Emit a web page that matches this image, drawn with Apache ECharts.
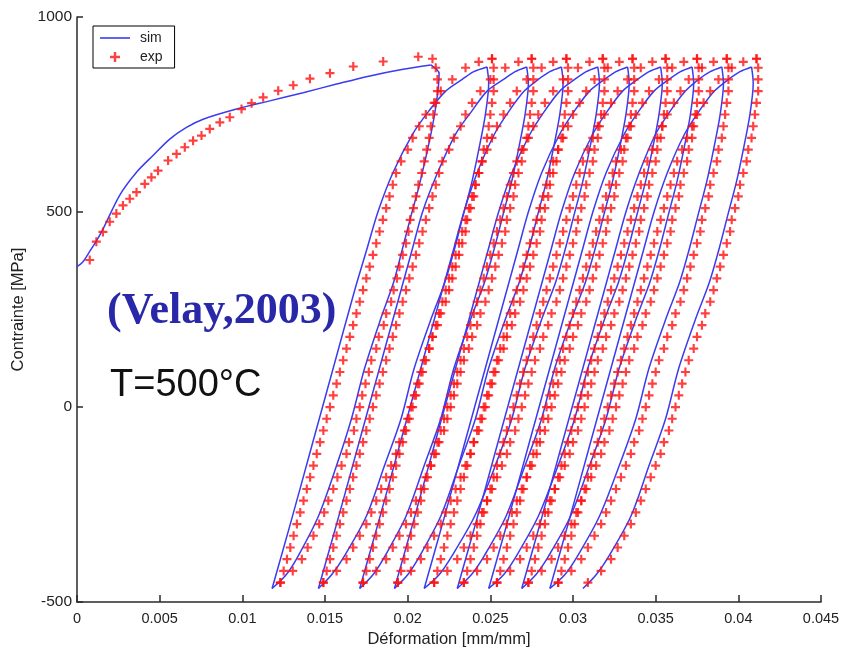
<!DOCTYPE html>
<html><head><meta charset="utf-8">
<script src="https://cdn.jsdelivr.net/npm/echarts@6/dist/echarts.min.js"></script>
<style>html,body{margin:0;padding:0;background:#fff}#c{width:846px;height:653px}</style>
</head><body><div id="c"></div>
<script>
// ---------- DATA (strain in mm/mm, stress in MPa) ----------
const xTicks = [0, 0.005, 0.01, 0.015, 0.02, 0.025, 0.03, 0.035, 0.04, 0.045];
const yTicks = [-500, 0, 500, 1000];

// simulation: monotonic loading
const simMono = [[0,360],[0.00035,372],[0.00077,399],[0.0012,428],[0.00158,457],[0.00258,543],[0.0036,602],[0.0046,645],[0.00561,687],[0.00662,717],[0.00763,738],[0.00965,764],[0.01166,785],[0.01368,806],[0.0157,828],[0.01772,849],[0.01973,866],[0.0214,877]];
// simulation: first unloading
const simDown0Stress = [877,855,800,720,640,560,490,400,320,230,100,-30,-150,-280,-380,-430,-465];
const simDown0 = [0.0214,0.0219,0.0218,0.0215,0.0211,0.02065,0.0202,0.01965,0.01915,0.0184,0.0174,0.0166,0.0157,0.0146,0.0134,0.01265,0.0118];
// simulation: reloading branches
const simUpStress = [-465,-300,-100,100,300,400,500,600,700,760,810,840,860,872];
const simUp = [
 [0.0118,0.0129,0.0142,0.0155,0.0168,0.0175,0.0182,0.0191,0.0203,0.0213,0.0223,0.0233,0.0240,0.0248],
 [0.0146,0.0157,0.0170,0.0183,0.0196,0.02025,0.0209,0.0218,0.0229,0.0239,0.0248,0.0258,0.0265,0.0272],
 [0.0171,0.0182,0.0195,0.0208,0.0221,0.02275,0.0234,0.0242,0.02525,0.02615,0.02705,0.0279,0.0286,0.0293],
 [0.0192,0.0203,0.0216,0.0229,0.0242,0.02485,0.0255,0.0263,0.0274,0.0283,0.0292,0.0301,0.0308,0.0315],
 [0.0210,0.0221,0.0234,0.0247,0.0260,0.02665,0.0273,0.0281,0.0292,0.0301,0.0310,0.0319,0.0326,0.0333],
 [0.0230,0.0241,0.0254,0.0267,0.0280,0.02865,0.0293,0.0301,0.0312,0.0321,0.0330,0.0339,0.0346,0.0353],
 [0.0249,0.0260,0.0273,0.0286,0.0299,0.03055,0.0312,0.0320,0.0331,0.0340,0.0349,0.0358,0.0365,0.0372],
 [0.0269,0.0280,0.0293,0.0306,0.0319,0.03255,0.0332,0.0340,0.0350,0.0359,0.0368,0.0376,0.0383,0.0390],
 [0.0286,0.0297,0.0310,0.0323,0.0336,0.03425,0.0349,0.0357,0.03675,0.03765,0.03855,0.0394,0.0401,0.0408]
];
// simulation: unloading branches 2..10
const simDownStress = [872,830,750,660,580,490,400,320,230,100,-30,-150,-280,-380,-430,-465];
const simDown = [
 [0.0248,0.0249,0.0247,0.0243,0.0239,0.02335,0.0228,0.02225,0.02145,0.0204,0.0196,0.0186,0.0175,0.0162,0.0154,0.0146],
 [0.0272,0.0273,0.0271,0.0267,0.0263,0.02575,0.0252,0.02465,0.02385,0.0228,0.0220,0.0210,0.0199,0.01865,0.0179,0.0171],
 [0.0293,0.0294,0.0292,0.0288,0.0284,0.02785,0.0273,0.02675,0.02595,0.0249,0.0241,0.0231,0.0220,0.02075,0.0200,0.0192],
 [0.0315,0.0316,0.0314,0.0310,0.0306,0.03005,0.0295,0.02895,0.02815,0.0271,0.0263,0.0253,0.02405,0.0227,0.0219,0.0210],
 [0.0333,0.0334,0.0332,0.0328,0.0324,0.03185,0.0313,0.03075,0.02995,0.0289,0.0281,0.0271,0.02595,0.02465,0.02385,0.0230],
 [0.0353,0.0354,0.0352,0.0348,0.0344,0.03385,0.0333,0.03275,0.03195,0.0309,0.0301,0.0291,0.0279,0.0266,0.0258,0.0249],
 [0.0372,0.0373,0.0371,0.0367,0.0363,0.03575,0.0352,0.03465,0.03385,0.0328,0.0320,0.0310,0.02985,0.02855,0.02775,0.0269],
 [0.0390,0.0391,0.0389,0.0385,0.0381,0.03755,0.0370,0.03645,0.03565,0.0346,0.0338,0.0328,0.0316,0.0303,0.0295,0.0286],
 [0.0408,0.0409,0.0407,0.0403,0.0399,0.03935,0.0388,0.03825,0.03745,0.0364,0.0356,0.0346,0.0335,0.0322,0.0314,0.0306]
];

// experiment: monotonic loading
const expMono = [[0.00077,377],[0.00117,424],[0.00157,449],[0.00198,475],[0.00238,496],[0.00278,517],[0.00319,534],[0.0036,551],[0.0041,572],[0.0045,589],[0.0049,606],[0.00551,632],[0.00602,649],[0.00652,666],[0.00702,683],[0.00753,696],[0.00803,713],[0.00864,730],[0.00924,743],[0.00995,764],[0.01056,779],[0.01126,794],[0.01217,811],[0.01308,825],[0.01409,842],[0.0153,856],[0.01671,873],[0.01852,886],[0.02064,898]];
// experiment: unloading branches (stress levels shared)
const expDownStress = [893,870,840,810,780,750,720,690,660,630,600,570,540,510,480,450,420,390,360,330,300,270,240,210,180,150,120,90,60,30,0,-30,-60,-90,-120,-150,-180,-210,-240,-270,-300,-330,-360,-390,-420,-450];
const expDown0 = [0.0215,0.0217,0.0218,0.0218,0.0217,0.02155,0.0214,0.0213,0.02115,0.0210,0.02085,0.02065,0.0205,0.02035,0.02015,0.02005,0.0199,0.0197,0.0195,0.01935,0.01915,0.0190,0.0187,0.01855,0.01825,0.0181,0.0178,0.01765,0.01745,0.01725,0.0171,0.0169,0.01675,0.01645,0.0163,0.0160,0.01575,0.0155,0.0152,0.01495,0.01465,0.0143,0.01395,0.0136,0.01305,0.0123];
const expDown = [
 [0.0251,0.0252,0.0252,0.0252,0.0251,0.0250,0.0249,0.0248,0.0246,0.0245,0.0243,0.0241,0.0240,0.0238,0.0236,0.0235,0.0233,0.0231,0.0229,0.0227,0.0225,0.0223,0.0220,0.0218,0.0215,0.0213,0.0210,0.0208,0.0206,0.0204,0.0202,0.0200,0.0198,0.0195,0.0193,0.0190,0.0187,0.0184,0.0181,0.0178,0.0175,0.0171,0.0167,0.0163,0.0157,0.0149],
 [0.0275,0.0276,0.0276,0.0276,0.0275,0.0274,0.0273,0.0272,0.0270,0.0269,0.0267,0.0265,0.0264,0.0262,0.0260,0.0259,0.0257,0.0255,0.0253,0.0251,0.0249,0.0247,0.0244,0.0242,0.0239,0.0237,0.0234,0.0232,0.0230,0.0228,0.0226,0.0224,0.0222,0.0219,0.0217,0.0214,0.0211,0.0208,0.0205,0.0202,0.0199,0.0195,0.0191,0.0187,0.0181,0.0173],
 [0.0296,0.0297,0.0297,0.0297,0.0296,0.0295,0.0294,0.0293,0.0291,0.0290,0.0288,0.0286,0.0285,0.0283,0.0281,0.0280,0.0278,0.0276,0.0274,0.0272,0.0270,0.0268,0.0265,0.0263,0.0260,0.0258,0.0255,0.0253,0.0251,0.0249,0.0247,0.0245,0.0243,0.0240,0.0238,0.0235,0.0232,0.0229,0.0226,0.0223,0.0220,0.0216,0.0212,0.0208,0.0202,0.0194],
 [0.0318,0.0319,0.0319,0.0319,0.0318,0.0317,0.0316,0.0315,0.0313,0.0312,0.0310,0.0308,0.0307,0.0305,0.0303,0.0302,0.0300,0.0298,0.0296,0.0294,0.0292,0.0290,0.0287,0.0285,0.0282,0.0280,0.0277,0.0275,0.0273,0.0271,0.0269,0.0267,0.0265,0.0262,0.0260,0.0257,0.0254,0.0251,0.0248,0.0245,0.0242,0.0238,0.0234,0.0230,0.0224,0.0216],
 [0.0336,0.0337,0.0337,0.0337,0.0336,0.0335,0.0334,0.0333,0.0331,0.0330,0.0328,0.0326,0.0325,0.0323,0.0321,0.0320,0.0318,0.0316,0.0314,0.0312,0.0310,0.0308,0.0305,0.0303,0.0300,0.0298,0.0295,0.0293,0.0291,0.0289,0.0287,0.0285,0.0283,0.0280,0.0278,0.0275,0.0272,0.0269,0.0266,0.0263,0.0260,0.0256,0.0252,0.0248,0.0242,0.0234],
 [0.0356,0.0357,0.0357,0.0357,0.0356,0.0355,0.0354,0.0353,0.0351,0.0350,0.0348,0.0346,0.0345,0.0343,0.0341,0.0340,0.0338,0.0336,0.0334,0.0332,0.0330,0.0328,0.0325,0.0323,0.0320,0.0318,0.0315,0.0313,0.0311,0.0309,0.0307,0.0305,0.0303,0.0300,0.0298,0.0295,0.0292,0.0289,0.0286,0.0283,0.0280,0.0276,0.0272,0.0268,0.0262,0.0254],
 [0.0375,0.0376,0.0376,0.0376,0.0375,0.0374,0.0373,0.0372,0.0370,0.0369,0.0367,0.0365,0.0364,0.0362,0.0360,0.0359,0.0357,0.0355,0.0353,0.0351,0.0349,0.0347,0.0344,0.0342,0.0339,0.0337,0.0334,0.0332,0.0330,0.0328,0.0326,0.0324,0.0322,0.0319,0.0317,0.0314,0.0311,0.0308,0.0305,0.0302,0.0299,0.0295,0.0291,0.0287,0.0281,0.0273],
 [0.0393,0.0394,0.0394,0.0394,0.0393,0.0392,0.0391,0.0390,0.0388,0.0387,0.0385,0.0383,0.0382,0.0380,0.0378,0.0377,0.0375,0.0373,0.0371,0.0369,0.0367,0.0365,0.0362,0.0360,0.0357,0.0355,0.0352,0.0350,0.0348,0.0346,0.0344,0.0342,0.0340,0.0337,0.0335,0.0332,0.0329,0.0326,0.0323,0.0320,0.0317,0.0313,0.0309,0.0305,0.0299,0.0291],
 [0.0411,0.0412,0.0412,0.0412,0.0411,0.0410,0.0409,0.0408,0.0406,0.0405,0.0403,0.0401,0.0400,0.0398,0.0396,0.0395,0.0393,0.0391,0.0389,0.0387,0.0385,0.0383,0.0380,0.0378,0.0375,0.0373,0.0370,0.0368,0.0366,0.0364,0.0362,0.0360,0.0358,0.0355,0.0353,0.0350,0.0347,0.0344,0.0341,0.0338,0.0335,0.0331,0.0327,0.0323,0.0317,0.0309]
];
// experiment: reloading branches (stress levels shared)
const expUpStress = [-450,-420,-390,-360,-330,-300,-270,-240,-210,-180,-150,-120,-90,-60,-30,0,30,60,90,120,150,180,210,240,270,300,330,360,390,420,450,480,510,540,570,600,630,660,690,720,750,780,810,840,870,885,893];
const expUp = [
 [0.0123,0.0125,0.0127,0.0129,0.0131,0.0133,0.0135,0.0137,0.0139,0.0141,0.0143,0.0145,0.0147,0.0149,0.0151,0.0153,0.0155,0.0157,0.0159,0.0161,0.0163,0.0165,0.0167,0.0169,0.0171,0.0173,0.0175,0.0177,0.0179,0.0181,0.0183,0.0185,0.0187,0.0189,0.0191,0.0193,0.0196,0.0200,0.0203,0.0207,0.0211,0.0216,0.0220,0.0227,0.0235,0.0243,0.0251],
 [0.0149,0.0151,0.0153,0.0155,0.0157,0.0159,0.0161,0.0163,0.0165,0.0167,0.0169,0.0171,0.0173,0.0175,0.0177,0.0179,0.0181,0.0183,0.0185,0.0187,0.0189,0.0191,0.0193,0.0195,0.0197,0.0199,0.0201,0.0203,0.0205,0.0207,0.0209,0.0211,0.0213,0.0215,0.0217,0.0219,0.0221,0.0225,0.0228,0.0232,0.0235,0.0239,0.0244,0.0250,0.0259,0.0267,0.0275],
 [0.0173,0.0175,0.0177,0.0179,0.0181,0.0183,0.0185,0.0187,0.0189,0.0191,0.0193,0.0195,0.0197,0.0199,0.0201,0.0203,0.0205,0.0207,0.0209,0.0211,0.0213,0.0215,0.0217,0.0219,0.0221,0.0223,0.0225,0.0227,0.0229,0.0231,0.0233,0.0235,0.0237,0.0239,0.0241,0.0243,0.0245,0.0248,0.0251,0.0254,0.0258,0.0262,0.0266,0.0272,0.0281,0.0288,0.0296],
 [0.0194,0.0196,0.0198,0.0200,0.0202,0.0204,0.0206,0.0208,0.0210,0.0212,0.0214,0.0216,0.0218,0.0220,0.0222,0.0224,0.0226,0.0228,0.0230,0.0232,0.0234,0.0236,0.0238,0.0240,0.0242,0.0244,0.0246,0.0248,0.0250,0.0252,0.0254,0.0256,0.0258,0.0260,0.0262,0.0264,0.0266,0.0269,0.0273,0.0276,0.0279,0.0283,0.0288,0.0294,0.0303,0.0310,0.0318],
 [0.0216,0.0218,0.0220,0.0222,0.0224,0.0226,0.0228,0.0230,0.0232,0.0234,0.0236,0.0238,0.0240,0.0242,0.0244,0.0246,0.0248,0.0250,0.0252,0.0254,0.0256,0.0258,0.0260,0.0262,0.0264,0.0266,0.0268,0.0270,0.0272,0.0274,0.0276,0.0278,0.0280,0.0282,0.0284,0.0286,0.0288,0.0291,0.0294,0.0297,0.0300,0.0304,0.0308,0.0313,0.0321,0.0328,0.0336],
 [0.0234,0.0236,0.0238,0.0240,0.0242,0.0244,0.0246,0.0248,0.0250,0.0252,0.0254,0.0256,0.0258,0.0260,0.0262,0.0264,0.0266,0.0268,0.0270,0.0272,0.0274,0.0276,0.0278,0.0280,0.0282,0.0284,0.0286,0.0288,0.0290,0.0292,0.0294,0.0296,0.0298,0.0300,0.0302,0.0304,0.0306,0.0309,0.0312,0.0315,0.0319,0.0323,0.0327,0.0333,0.0341,0.0348,0.0356],
 [0.0254,0.0256,0.0258,0.0260,0.0262,0.0264,0.0266,0.0268,0.0270,0.0272,0.0274,0.0276,0.0278,0.0280,0.0282,0.0284,0.0286,0.0288,0.0290,0.0292,0.0294,0.0296,0.0298,0.0300,0.0302,0.0304,0.0306,0.0308,0.0310,0.0312,0.0314,0.0316,0.0318,0.0320,0.0322,0.0324,0.0326,0.0329,0.0332,0.0335,0.0338,0.0342,0.0346,0.0352,0.0360,0.0367,0.0375],
 [0.0273,0.0275,0.0277,0.0279,0.0281,0.0283,0.0285,0.0287,0.0289,0.0291,0.0293,0.0295,0.0297,0.0299,0.0301,0.0303,0.0305,0.0307,0.0309,0.0311,0.0313,0.0315,0.0317,0.0319,0.0321,0.0323,0.0325,0.0327,0.0329,0.0331,0.0333,0.0335,0.0337,0.0339,0.0341,0.0343,0.0345,0.0348,0.0351,0.0354,0.0357,0.0361,0.0365,0.0370,0.0378,0.0385,0.0393],
 [0.0291,0.0293,0.0295,0.0297,0.0299,0.0301,0.0303,0.0305,0.0307,0.0309,0.0311,0.0313,0.0315,0.0317,0.0319,0.0321,0.0323,0.0325,0.0327,0.0329,0.0331,0.0333,0.0335,0.0337,0.0339,0.0341,0.0343,0.0345,0.0347,0.0349,0.0351,0.0353,0.0355,0.0357,0.0359,0.0361,0.0363,0.0366,0.0369,0.0372,0.0375,0.0379,0.0383,0.0388,0.0396,0.0403,0.0411]
];

// ---------- BUILD ----------
const zip = (stress, strain) => strain.map((e, i) => [e, stress[i]]);
const simPaths = [simMono, zip(simDown0Stress, simDown0)];
for (let i = 0; i < simUp.length; i++) {
  simPaths.push(zip(simUpStress, simUp[i]));
  simPaths.push(zip(simDownStress, simDown[i]));
}
let expPts = expMono.concat(zip(expDownStress, expDown0));
for (let i = 0; i < expUp.length; i++) {
  expPts = expPts.concat(zip(expUpStress, expUp[i]), zip(expDownStress, expDown[i]));
}

const BLUE = '#3b3bf0', RED = '#ff1010', AX = '#2a2a2a';
const CROSS = 'path://M3.8,0H6.2V3.8H10V6.2H6.2V10H3.8V6.2H0V3.8H3.8Z';
const LINEICON = 'path://M0,4.2H30V5.8H0Z';
const FONT = '"Liberation Sans", Arial, sans-serif';

const series = simPaths.map(d => ({
  type: 'line', name: 'sim', data: d, smooth: 0.3, symbol: 'none', showSymbol: false,
  lineStyle: { color: BLUE, width: 1.5 }, itemStyle: { color: BLUE }, z: 2, silent: true
}));
series.push({
  type: 'scatter', name: 'exp', data: expPts, symbol: CROSS, symbolSize: 9,
  itemStyle: { color: RED }, z: 3, silent: true
});

const chart = echarts.init(document.getElementById('c'), null, { renderer: 'canvas' });
chart.setOption({
  animation: false,
  backgroundColor: '#fff',
  grid: { left: 77, top: 17, width: 744, height: 588, containLabel: false },
  legend: {
    orient: 'vertical', left: 93, top: 26,
    data: [{ name: 'sim', icon: LINEICON }, { name: 'exp', icon: CROSS }],
    itemWidth: 30, itemHeight: 10, itemGap: 5,
    padding: [5, 12, 4, 7],
    borderColor: '#000', borderWidth: 1, backgroundColor: '#fff',
    textStyle: { fontSize: 14, color: '#222', fontFamily: FONT, padding: [0, 0, 0, 5] },
    selectedMode: false
  },
  xAxis: {
    type: 'value', min: 0, max: 0.045, interval: 0.005,
    name: 'Déformation [mm/mm]', nameLocation: 'middle', nameGap: 27,
    nameTextStyle: { fontSize: 16.5, color: '#222', fontFamily: FONT },
    axisLine: { show: true, onZero: false, lineStyle: { color: AX, width: 1.5 } },
    axisTick: { show: true, inside: true, length: 7, lineStyle: { color: AX, width: 1.5 } },
    axisLabel: { fontSize: 14.5, color: '#222', fontFamily: FONT, margin: 9,
      formatter: v => String(+v.toFixed(3)) },
    splitLine: { show: false }
  },
  yAxis: {
    type: 'value', min: -500, max: 1000, interval: 500,
    name: 'Contrainte [MPa]', nameLocation: 'middle', nameGap: 34, nameRotate: 90,
    nameTextStyle: { fontSize: 16.5, color: '#222', fontFamily: FONT },
    axisLine: { show: true, onZero: false, lineStyle: { color: AX, width: 1.5 } },
    axisTick: { show: true, inside: true, length: 6, lineStyle: { color: AX, width: 1.5 } },
    axisLabel: { fontSize: 15.5, color: '#222', fontFamily: FONT, margin: 5,
      formatter: v => String(v) },
    splitLine: { show: false }
  },
  graphic: [
    { type: 'text', left: 107, top: 290, z: 10,
      style: { text: '(Velay,2003)', font: 'bold 44px "Liberation Serif", "Times New Roman", serif', fill: '#2828a8' } },
    { type: 'text', left: 110, top: 367, z: 10,
      style: { text: 'T=500°C', font: '38px "Liberation Sans", Arial, sans-serif', fill: '#111' } }
  ],
  series: series
});
</script>
</body></html>
